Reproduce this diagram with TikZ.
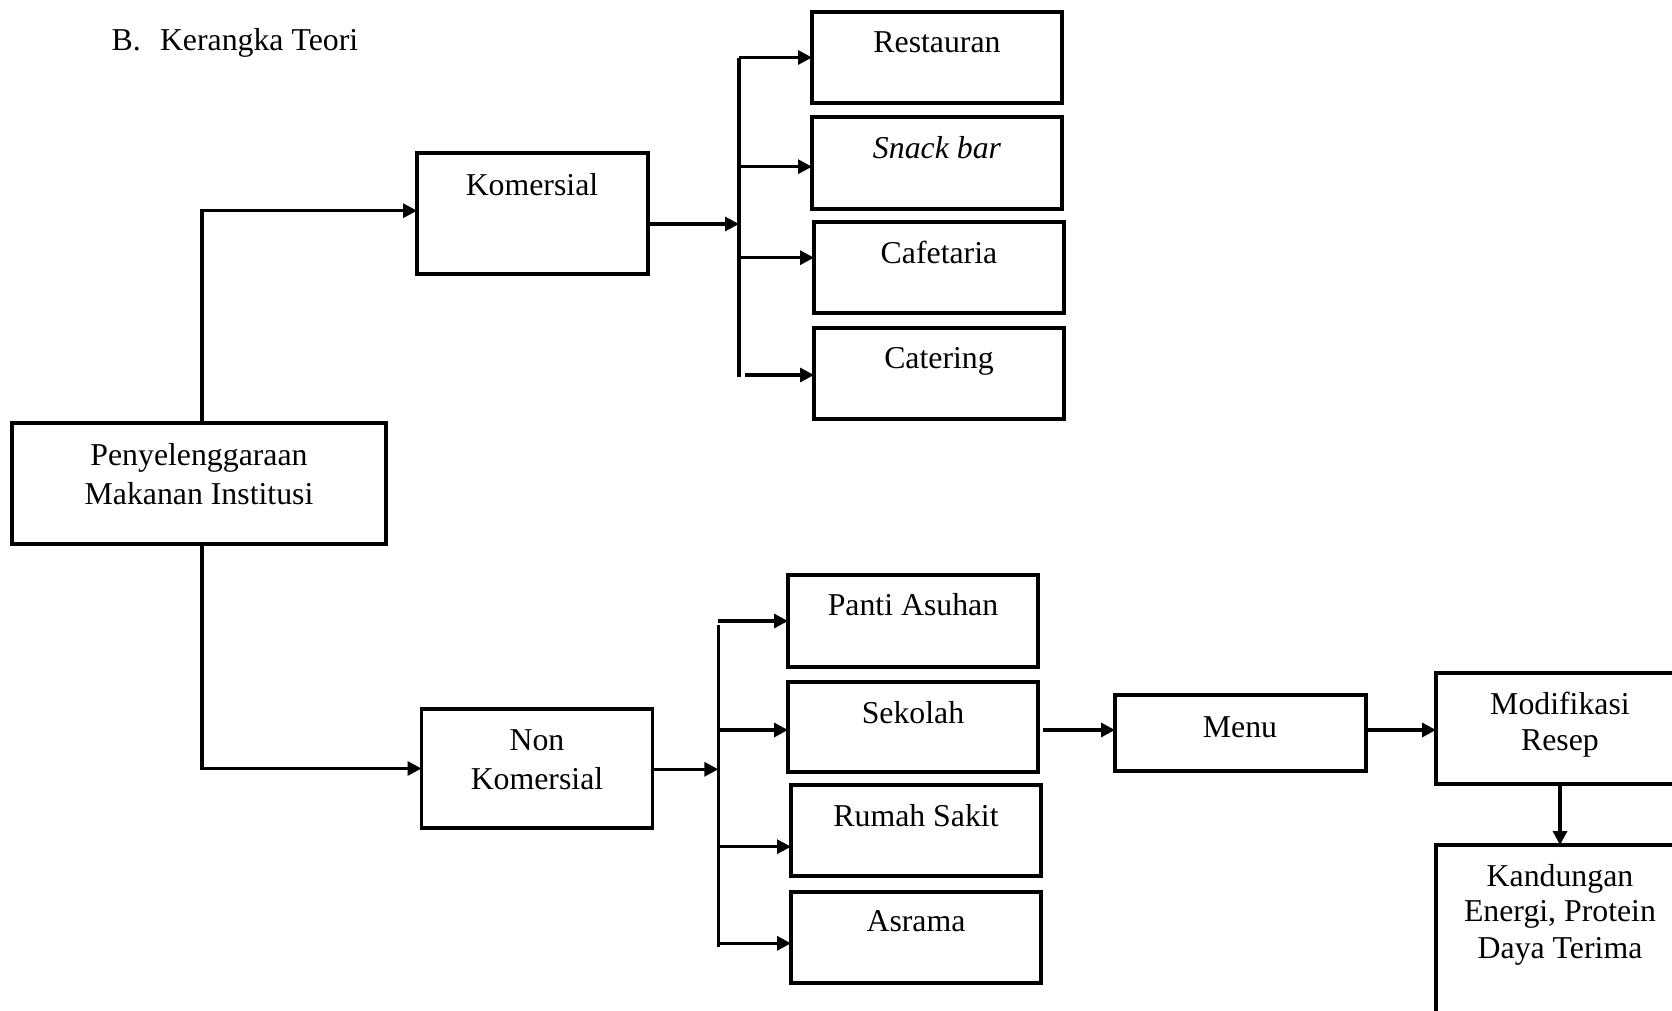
\documentclass[tikz,border=0pt]{standalone}
\usepackage{fontspec}
\setmainfont{Liberation Serif}
\usetikzlibrary{arrows.meta,calc}
\newcommand\fsz{\fontsize{15.9pt}{19pt}\selectfont}
\begin{document}
\begin{tikzpicture}[x=0.5pt,y=-0.5pt,
  box/.style={draw, line width=1.8pt, inner sep=0pt, outer sep=0pt},
  txt/.style={inner sep=0pt, outer sep=0pt, anchor=base, font=\fsz},
  ln/.style={line width=1.6pt},
  arr/.style={line width=1.6pt, -{Triangle[length=7pt,width=7pt]}}]
\useasboundingbox (0,0) rectangle (1672,1011);

% boxes
\node[box, minimum width=187pt, minimum height=60.5pt] (main) at (199,483.5) {};
\node[box, minimum width=115.5pt, minimum height=60.5pt] (kom) at (532.5,213.5) {};
\node[box, minimum width=115.5pt, minimum height=59.5pt] (nk) at (537,768.5) {};
\node[box, minimum width=125pt, minimum height=45.5pt] (rest) at (937,57.5) {};
\node[box, minimum width=125pt, minimum height=46pt] (snack) at (937,163) {};
\node[box, minimum width=125pt, minimum height=45.5pt] (cafe) at (939,267.5) {};
\node[box, minimum width=125pt, minimum height=45.5pt] (cater) at (939,373.5) {};
\node[box, minimum width=125pt, minimum height=46pt] (panti) at (913,621) {};
\node[box, minimum width=125pt, minimum height=45pt] (sekolah) at (913,727) {};
\node[box, minimum width=125pt, minimum height=45.5pt] (rumah) at (916,830.5) {};
\node[box, minimum width=125pt, minimum height=45.5pt] (asrama) at (916,937.5) {};
\node[box, minimum width=125.5pt, minimum height=38pt] (menu) at (1240.5,733) {};
\node[box, minimum width=124pt, minimum height=55.5pt] (modif) at (1560,728.5) {};
\node[box, minimum width=124pt, minimum height=117.5pt] (kand) at (1560,962.5) {};

% texts
\node[txt, anchor=base west] (tB) at (111.7,51) {B.};
\node[txt, anchor=base west] (tKT) at (160,51) {Kerangka Teori};
\node[txt] (t1) at (937,52.3) {Restauran};
\node[txt] (t2) at (937,158.3) {\itshape Snack bar};
\node[txt] (t3) at (939,263.3) {Cafetaria};
\node[txt] (t4) at (939,368.3) {Catering};
\node[txt] (t5) at (532,196) {Komersial};
\node[txt] (t6) at (199,465) {Penyelenggaraan};
\node[txt] (t7) at (199,504) {Makanan Institusi};
\node[txt] (t8) at (537,750) {Non};
\node[txt] (t9) at (537,789.3) {Komersial};
\node[txt] (t10) at (913,615) {Panti Asuhan};
\node[txt] (t11) at (913,723.3) {Sekolah};
\node[txt] (t12) at (916,826.7) {Rumah Sakit};
\node[txt] (t13) at (916,931.7) {Asrama};
\node[txt] (t14) at (1240,737.3) {Menu};
\node[txt] (t15) at (1560,714) {Modifikasi};
\node[txt] (t16) at (1560,750.5) {Resep};
\node[txt] (t17) at (1560,886.7) {Kandungan};
\node[txt] (t18) at (1560,921.7) {Energi, Protein};
\node[txt] (t19) at (1560,958.3) {Daya Terima};

% bus coordinates
\coordinate (bK) at (739,224);
\coordinate (bKt) at (739,58);
\coordinate (bKb) at (739,377);
\coordinate (bN) at (718.3,769.3);
\coordinate (bNt) at (718.3,625);
\coordinate (bNb) at (718.3,947);
\coordinate (rowM) at (1300,730);

% main splits
\coordinate (mN) at ([xshift=1.5pt]main.north);
\coordinate (mS) at ([xshift=1.5pt]main.south);
\coordinate (kW) at ([yshift=1.4pt]kom.west);
\draw[arr] (mN) |- (kW);
\draw[arr] (mS) |- (nk.west);

% komersial branch
\draw[arr] (kom.east |- bK) -- (bK);
\draw[ln] (bKt) -- (bKb);
\draw[arr] (bK |- rest.west) -- (rest.west);
\coordinate (snA) at ([yshift=-1.85pt]snack.west);
\draw[arr] (bK |- snA) -- (snA);
\coordinate (caA) at ([yshift=4.9pt]cafe.west);
\draw[arr] (bK |- caA) -- (caA);
\coordinate (ctA) at ([yshift=-0.75pt]cater.west);
\draw[arr] ([xshift=3pt]bK |- ctA) -- (ctA);

% non komersial branch
\draw[arr] (nk.east |- bN) -- (bN);
\draw[ln] (bNt) -- (bNb);
\draw[arr] (bN |- panti.west) -- (panti.west);
\coordinate (skA) at ([yshift=-1.5pt]sekolah.west);
\draw[arr] (bN |- skA) -- (skA);
\coordinate (rsA) at ([yshift=-8.1pt]rumah.west);
\draw[arr] (bN |- rsA) -- (rsA);
\coordinate (asA) at ([yshift=-2.9pt]asrama.west);
\draw[arr] (bN |- asA) -- (asA);

% chain
\draw[arr] ([xshift=2.6pt]sekolah.east |- rowM) -- (menu.west |- rowM);
\draw[arr] (menu.east |- rowM) -- (modif.west |- rowM);
\draw[arr] (modif.south) -- (kand.north);
\end{tikzpicture}
\end{document}
